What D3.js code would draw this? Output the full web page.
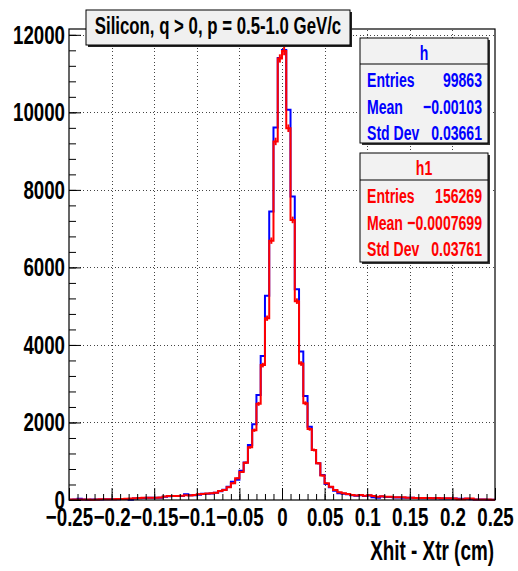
<!DOCTYPE html>
<html><head><meta charset="utf-8">
<script src="https://cdn.jsdelivr.net/npm/d3@7"></script>
<style>html,body{margin:0;padding:0;background:#fff;} svg{display:block;}</style>
</head><body><svg id="c" width="518" height="571"></svg>
<script>
// ---- data ----
const binLow = -0.25, binHigh = 0.25, nBins = 100;
const hValues = [
  5,10,35,10,8,10,12,15,18,20,
  18,22,25,28,5,40,45,50,55,55,
  60,60,85,95,100,100,105,146,120,125,
  135,160,160,165,190,225,265,340,470,520,
  757,970,1420,1953,2710,3716,5272,7440,9608,11400,
  11610,10065,7830,5437,3828,2684,1892,1290,950,645,
  413,330,240,172,160,150,125,110,120,105,
  115,70,60,90,80,80,65,65,60,55,
  55,50,45,48,45,45,45,40,40,40,
  38,35,35,35,20,15,12,10,8,6
];
const h1Values = [
  10,12,15,12,10,8,15,20,20,22,
  22,25,25,30,40,42,50,55,58,60,
  60,62,90,100,102,105,110,120,115,130,
  150,155,165,175,190,232,260,330,430,560,
  725,960,1360,1800,2480,3480,4690,6690,9250,11390,
  11580,9590,7225,5130,3520,2495,1830,1290,950,630,
  430,344,258,200,172,155,130,115,130,112,
  125,103,86,95,86,86,70,70,68,60,
  60,50,52,52,50,48,50,45,45,45,
  40,18,20,40,40,15,15,12,10,8
];
const xTickValues = [-0.25,-0.2,-0.15,-0.1,-0.05,0,0.05,0.1,0.15,0.2,0.25];
const yTickValues = [0,2000,4000,6000,8000,10000,12000];
const yMax = 12150;
const titleText = "Silicon, q > 0, p = 0.5-1.0 GeV/c";
const xTitle = "Xhit - Xtr (cm)";
const statsH = {name:"h", rows:[["Entries","99863"],["Mean","\u22120.00103"],["Std Dev","0.03661"]]};
const statsH1 = {name:"h1", rows:[["Entries","156269"],["Mean","\u22120.0007699"],["Std Dev","0.03761"]]};

// ---- layout ----
const FONT = "'Liberation Sans', Arial, Helvetica, sans-serif";
const svg = d3.select("#c");
const x = d3.scaleLinear().domain([binLow, binHigh]).range([69, 495]);
const y = d3.scaleLinear().domain([0, yMax]).range([500, 29]);
const bw = (binHigh - binLow) / nBins;

function ctext(g, px, py, str, fs, sx, anchor, color) {
  return g.append("text")
    .attr("transform", `translate(${px},${py}) scale(${sx},1)`)
    .attr("text-anchor", anchor || "start")
    .attr("font-family", FONT).attr("font-weight", "bold")
    .attr("font-size", fs).attr("fill", color || "#000")
    .text(str);
}

// grid
const grid = svg.append("g").attr("stroke", "#444").attr("stroke-width", 1)
  .attr("stroke-dasharray", "1,2.5").attr("shape-rendering", "crispEdges");
xTickValues.slice(1, -1).forEach(v => {
  grid.append("line").attr("x1", Math.round(x(v)) + 0.5).attr("x2", Math.round(x(v)) + 0.5)
    .attr("y1", y(0)).attr("y2", y(yMax));
});
yTickValues.slice(1).forEach(v => {
  grid.append("line").attr("y1", Math.round(y(v)) + 0.5).attr("y2", Math.round(y(v)) + 0.5)
    .attr("x1", x(binLow)).attr("x2", x(binHigh));
});

// histograms
function stepPoints(vals) {
  const pts = vals.map((v, i) => [binLow + i * bw, v]);
  pts.push([binHigh, vals[vals.length - 1]]);
  return pts;
}
const line = d3.line().x(d => x(d[0])).y(d => y(d[1])).curve(d3.curveStepAfter);
svg.append("path").attr("d", line(stepPoints(hValues)))
  .attr("fill", "none").attr("stroke", "#0000ff").attr("stroke-width", 2);
svg.append("path").attr("d", line(stepPoints(h1Values)))
  .attr("fill", "none").attr("stroke", "#ff0000").attr("stroke-width", 2);
// error bars on h1
svg.append("g").selectAll("line").data(h1Values).join("line")
  .attr("x1", (d, i) => x(binLow + (i + 0.5) * bw)).attr("x2", (d, i) => x(binLow + (i + 0.5) * bw))
  .attr("y1", d => y(d + Math.sqrt(d))).attr("y2", d => y(Math.max(0, d - Math.sqrt(d))))
  .attr("stroke", "#ff0000").attr("stroke-width", 2);

// axes
const LFS = 26, LSX = 0.72;
const xMinor = d3.range(0, 51).map(i => binLow + i * 0.01);
const yMinor = d3.range(0, 31).map(i => i * 400);
const gxm = svg.append("g").attr("transform", "translate(0,500)")
  .call(d3.axisBottom(x).tickValues(xMinor).tickSize(-6).tickFormat(""));
const gx = svg.append("g").attr("transform", "translate(0,500)")
  .call(d3.axisBottom(x).tickValues(xTickValues).tickSize(-12).tickPadding(8)
    .tickFormat(v => Math.abs(v) < 1e-9 ? "0" : (v < 0 ? "\u2212" : "") + Math.abs(v).toString()));
const gym = svg.append("g").attr("transform", "translate(69,0)")
  .call(d3.axisLeft(y).tickValues(yMinor).tickSize(-7).tickFormat(""));
const gy = svg.append("g").attr("transform", "translate(69,0)")
  .call(d3.axisLeft(y).tickValues(yTickValues).tickSize(-12).tickPadding(4).tickFormat(d3.format("d")));
[gx, gy, gxm, gym].forEach(g => {
  g.select(".domain").remove();
  g.selectAll("line").attr("stroke", "#000").attr("stroke-width", 1);
  g.selectAll("text").attr("font-family", FONT).attr("font-weight", "bold")
    .attr("font-size", LFS).attr("fill", "#000").attr("transform", `scale(${LSX},1)`);
});
gy.selectAll("text").attr("x", -4 / LSX);

// frame
svg.append("rect").attr("x", x(binLow)).attr("y", y(yMax))
  .attr("width", x(binHigh) - x(binLow)).attr("height", y(0) - y(yMax))
  .attr("fill", "none").attr("stroke", "#000").attr("stroke-width", 1.2);

// x title
ctext(svg, 494, 560, xTitle, 27, 0.7, "end");

// title box
const tb = svg.append("g");
tb.append("rect").attr("x", 88).attr("y", 12).attr("width", 264).attr("height", 35).attr("fill", "#222");
tb.append("rect").attr("x", 86).attr("y", 10).attr("width", 264).attr("height", 35)
  .attr("fill", "#f0f0f0").attr("stroke", "#000").attr("stroke-width", 1);
ctext(tb, 218, 34, titleText, 24, 0.7, "middle");

// stats boxes
function statsBox(st, top, color, h, divider) {
  const g = svg.append("g");
  const left = 360, w = 128;
  g.append("rect").attr("x", left + 2).attr("y", top + 2).attr("width", w).attr("height", h).attr("fill", "#333");
  g.append("rect").attr("x", left).attr("y", top).attr("width", w).attr("height", h)
    .attr("fill", "#f2f2f2").attr("stroke", "#000").attr("stroke-width", 1);
  g.append("line").attr("x1", left).attr("x2", left + w).attr("y1", top + divider).attr("y2", top + divider)
    .attr("stroke", "#000").attr("stroke-width", 1);
  ctext(g, left + w / 2, top + 22, st.name, 21, 0.67, "middle", color);
  st.rows.forEach((r, i) => {
    const by = top + divider + 23 + i * 26.5;
    ctext(g, left + 7, by, r[0], 21, 0.67, "start", color);
    ctext(g, left + 122, by, r[1], 21, 0.67, "end", color);
  });
}
statsBox(statsH, 38, "#0000ff", 105, 26);
statsBox(statsH1, 153, "#ff0000", 109, 27);
</script></body></html>
